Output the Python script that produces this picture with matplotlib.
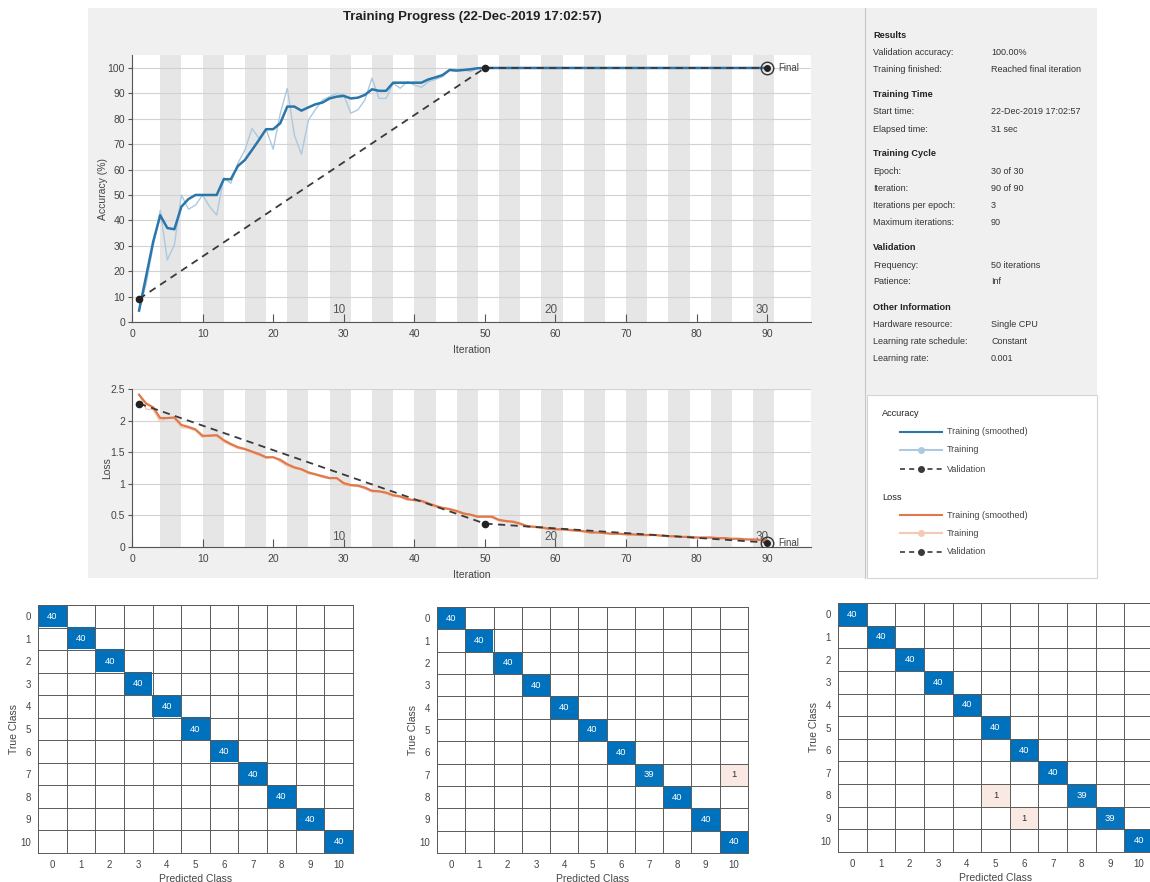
import matplotlib.pyplot as plt
import numpy as np
from matplotlib.patches import Rectangle

plt.rcParams['font.family'] = ['Liberation Sans', 'DejaVu Sans']

W, H = 1150, 882

# training progress, per iteration (1..90)
iters = np.arange(1, 91)
acc_smooth = [4.5, 18, 31.6, 42, 37, 36.5, 45.4, 48.4, 50, 50,
              50, 50, 56.2, 56.2, 61.4, 63.8, 67.7, 71.7, 75.9, 75.9,
              78.2, 84.8, 84.8, 83.2, 84.5, 85.7, 86.4, 88, 88.7, 89,
              88, 88.3, 89.4, 91.6, 91, 91, 94.2, 94.2, 94.2, 94.2,
              94.2, 95.5, 96.3, 97.2, 99.2, 99, 99.2, 99.5, 99.9, 100] + [100] * 40
acc_raw = [4.5, 15, 30, 44, 24.4, 30.3, 50, 44.4, 46, 50,
           45.4, 42.1, 56.8, 54.6, 62.5, 67.7, 76.2, 72.3, 75.9, 68,
           82, 92, 73.6, 66, 79.5, 83.7, 87.4, 88.7, 90, 89.4,
           82.2, 83.5, 87.4, 96, 88, 88, 94, 92, 94.6, 93.3,
           92.4, 94.6, 95.5, 96.6, 99.2, 98.6, 99.2, 98.6, 100, 100] + [100] * 40
loss_smooth = [2.41, 2.27, 2.21, 2.04, 2.04, 2.05, 1.93, 1.90, 1.86, 1.76,
               1.76, 1.77, 1.69, 1.63, 1.58, 1.55, 1.51, 1.47, 1.42, 1.42,
               1.38, 1.31, 1.26, 1.23, 1.18, 1.15, 1.12, 1.09, 1.09, 1.01,
               0.98, 0.97, 0.94, 0.89, 0.88, 0.86, 0.82, 0.80, 0.76, 0.74,
               0.73, 0.69, 0.65, 0.62, 0.60, 0.57, 0.53, 0.51, 0.48, 0.48,
               0.48, 0.43, 0.41, 0.40, 0.37, 0.33, 0.32, 0.31, 0.29, 0.28,
               0.28, 0.27, 0.26, 0.25, 0.23, 0.23, 0.22, 0.21, 0.21, 0.20,
               0.20, 0.19, 0.19, 0.19, 0.18, 0.17, 0.17, 0.16, 0.16, 0.15,
               0.15, 0.15, 0.14, 0.14, 0.13, 0.13, 0.12, 0.12, 0.11, 0.10]
loss_raw = [2.41, 2.18, 2.17, 1.98, 2.05, 2.03, 1.89, 1.88, 1.84, 1.73,
            1.78, 1.75, 1.66, 1.61, 1.56, 1.54, 1.49, 1.45, 1.40, 1.43,
            1.35, 1.28, 1.24, 1.22, 1.16, 1.14, 1.10, 1.08, 1.10, 0.98,
            0.97, 0.96, 0.92, 0.87, 0.88, 0.84, 0.80, 0.79, 0.74, 0.75,
            0.71, 0.67, 0.63, 0.61, 0.59, 0.55, 0.52, 0.50, 0.47, 0.49,
            0.46, 0.41, 0.40, 0.39, 0.35, 0.32, 0.31, 0.30, 0.28, 0.28,
            0.27, 0.26, 0.25, 0.24, 0.22, 0.23, 0.21, 0.21, 0.20, 0.20,
            0.19, 0.19, 0.18, 0.19, 0.17, 0.17, 0.16, 0.16, 0.15, 0.15,
            0.14, 0.15, 0.13, 0.14, 0.12, 0.13, 0.12, 0.11, 0.11, 0.09]
val_iter = [1, 50, 90]
val_acc = [9.09, 100, 100]
val_loss = [2.27, 0.37, 0.07]
epoch_len = 3
n_epochs = 30
epoch_marks = [10, 20, 30]

info = [
    ('Results', [('Validation accuracy:', '100.00%'),
                 ('Training finished:', 'Reached final iteration')]),
    ('Training Time', [('Start time:', '22-Dec-2019 17:02:57'),
                       ('Elapsed time:', '31 sec')]),
    ('Training Cycle', [('Epoch:', '30 of 30'),
                        ('Iteration:', '90 of 90'),
                        ('Iterations per epoch:', '3'),
                        ('Maximum iterations:', '90')]),
    ('Validation', [('Frequency:', '50 iterations'),
                    ('Patience:', 'Inf')]),
    ('Other Information', [('Hardware resource:', 'Single CPU'),
                           ('Learning rate schedule:', 'Constant'),
                           ('Learning rate:', '0.001')]),
]

# confusion matrices: correct counts per class plus (true, predicted, count) errors
classes = list(range(11))
correct_a = [40, 40, 40, 40, 40, 40, 40, 40, 40, 40, 40]
errors_a = []
correct_b = [40, 40, 40, 40, 40, 40, 40, 39, 40, 40, 40]
errors_b = [(7, 10, 1)]
correct_c = [40, 40, 40, 40, 40, 40, 40, 40, 39, 39, 40]
errors_c = [(8, 5, 1), (9, 6, 1)]

C_ACC = '#2a76aa'
C_ACC_RAW = '#abc9df'
C_LOSS = '#e0784a'
C_LOSS_RAW = '#f6c9b3'
C_VAL = '#3a3a3a'
C_TXT = '#333333'

fig = plt.figure(figsize=(W / 100, H / 100), dpi=100)


def px_axes(x0, y0, x1, y1):
    return fig.add_axes([x0 / W, 1 - y1 / H, (x1 - x0) / W, (y1 - y0) / H])


# backdrop canvas in pixel units
bg = fig.add_axes([0, 0, 1, 1])
bg.set_xlim(0, W)
bg.set_ylim(H, 0)
bg.axis('off')
bg.set_zorder(-1)
bg.add_patch(Rectangle((88, 8), 1009, 570, fc='#f0f0f0', ec='none'))
bg.plot([865, 865], [8, 578], color='#c8c8c8', lw=0.8)
bg.add_patch(Rectangle((867, 395), 230, 183, fc='white', ec='#d4d4d4', lw=0.8))
bg.text(472, 17, 'Training Progress (22-Dec-2019 17:02:57)', ha='center', va='center',
        fontsize=9.5, fontweight='bold', color='#222222')

# info panel
y = 35
for head, rows in info:
    bg.text(873, y, head, fontsize=6.6, fontweight='bold', va='center', color='#222222')
    y += 17.5
    for lab, val in rows:
        bg.text(873, y, lab, fontsize=6.5, va='center', color=C_TXT)
        bg.text(991, y, val, fontsize=6.5, va='center', color=C_TXT)
        y += 17
    y += 8

# legend panel
def legend_group(y0, title, c_smooth, c_raw):
    bg.text(882, y0, title, fontsize=6.6, va='center', color='#222222')
    rows = [(y0 + 18, dict(color=c_smooth, lw=1.5), 'Training (smoothed)'),
            (y0 + 36, dict(color=c_raw, lw=1.5, marker='o', ms=4, markevery=[1]), 'Training'),
            (y0 + 55, dict(color=C_VAL, lw=1.2, ls=(0, (3, 2.5)), marker='o', ms=4,
                           markevery=[1]), 'Validation')]
    for yy, style, lab in rows:
        bg.plot([900, 921, 942], [yy, yy, yy], **style)
        bg.text(947, yy, lab, fontsize=6.5, va='center', color='#444444')


legend_group(414, 'Accuracy', C_ACC, C_ACC_RAW)
legend_group(497, 'Loss', C_LOSS, C_LOSS_RAW)


def style_progress(ax, ylim, yticks, ylabels, ylabel, epoch_y, xlab_off, ylab_off):
    ax.set_facecolor('white')
    ax.set_xlim(0, 96.2)
    ax.set_ylim(*ylim)
    for k in range(1, n_epochs, 2):
        ax.axvspan(k * epoch_len + 1, (k + 1) * epoch_len + 1, color='#e6e6e6', lw=0, zorder=0)
    ax.set_axisbelow(True)
    ax.yaxis.grid(True, color='#d2d2d2', lw=0.8)
    for s in ('top', 'right'):
        ax.spines[s].set_visible(False)
    for s in ('left', 'bottom'):
        ax.spines[s].set_color('#555555')
        ax.spines[s].set_linewidth(0.8)
    ax.set_xticks(range(0, 91, 10))
    ax.set_yticks(yticks)
    ax.set_yticklabels(ylabels)
    ax.tick_params(axis='x', direction='in', length=6, width=0.8, color='#555555',
                   labelsize=7.5, labelcolor='#444444', pad=5)
    ax.tick_params(axis='y', direction='out', length=3, width=0.8, color='#555555',
                   labelsize=7.5, labelcolor='#444444', pad=2)
    ax.set_xlabel('Iteration', fontsize=7.5, color='#444444')
    ax.set_ylabel(ylabel, fontsize=7.5, color='#444444')
    ax.xaxis.set_label_coords(0.5, xlab_off)
    ax.yaxis.set_label_coords(ylab_off, 0.5)
    for e in epoch_marks:
        ax.text(e * epoch_len - 0.7, epoch_y, str(e), ha='center', va='bottom',
                fontsize=8.5, color='#555555', zorder=1)


def final_marker(ax, x, yv):
    ax.plot(x, yv, 'o', ms=9, mfc='none', mec='#333333', mew=1, zorder=5)
    ax.plot(x, yv, 'o', ms=4, color='#222222', zorder=5)
    ax.text(x + 1.6, yv, 'Final', fontsize=7, va='center', ha='left', color='#444444')


# accuracy
ax1 = px_axes(132, 55, 811, 322)
style_progress(ax1, (0, 105.1), range(0, 101, 10), [str(v) for v in range(0, 101, 10)],
               'Accuracy (%)', 2.2, -0.085, -0.036)
ax1.plot(iters, acc_raw, color=C_ACC_RAW, lw=1.0, zorder=2)
ax1.plot(iters, acc_smooth, color=C_ACC, lw=1.8, zorder=3)
ax1.plot(val_iter, val_acc, color=C_VAL, lw=1.3, ls=(0, (4, 3)), zorder=4)
ax1.plot(val_iter[:-1], val_acc[:-1], 'o', ms=4.5, color='#222222', zorder=5)
final_marker(ax1, val_iter[-1], val_acc[-1])

# loss
ax2 = px_axes(132, 389, 811, 547)
style_progress(ax2, (0, 2.5), [0, 0.5, 1, 1.5, 2, 2.5], ['0', '0.5', '1', '1.5', '2', '2.5'],
               'Loss', 0.06, -0.145, -0.029)
ax2.plot(iters, loss_raw, color=C_LOSS_RAW, lw=1.0, zorder=2)
ax2.plot(iters, loss_smooth, color=C_LOSS, lw=1.6, zorder=3)
ax2.plot(val_iter, val_loss, color=C_VAL, lw=1.3, ls=(0, (4, 3)), zorder=4)
ax2.plot(val_iter[:-1], val_loss[:-1], 'o', ms=4.5, color='#222222', zorder=5)
final_marker(ax2, val_iter[-1], val_loss[-1])


def build_cm(correct, errors):
    cm = np.diag(np.array(correct, dtype=float))
    for t, p, c in errors:
        cm[t, p] = c
    return cm


def draw_cm(ax, cm):
    n = len(cm)
    white = np.array([1.0, 1.0, 1.0])
    blue = np.array([0, 114, 189]) / 255
    red = np.array([217, 83, 25]) / 255
    vmax = cm.max()
    rgb = np.ones((n, n, 3))
    for i in range(n):
        for j in range(n):
            v = cm[i, j]
            if v == 0:
                continue
            if i == j:
                f = v / vmax
                rgb[i, j] = white * (1 - f) + blue * f
                tc = 'white'
            else:
                f = min(1.0, 0.1 + 0.9 * v / vmax)
                rgb[i, j] = white * (1 - f) + red * f
                tc = '#333333'
            ax.text(j, i, '%d' % v, ha='center', va='center', fontsize=6.8, color=tc)
    ax.imshow(rgb, extent=(-0.5, n - 0.5, n - 0.5, -0.5), aspect='auto', interpolation='nearest')
    ax.set_xticks(range(n))
    ax.set_yticks(range(n))
    ax.set_xticklabels(classes)
    ax.set_yticklabels(classes)
    ax.set_xticks(np.arange(-0.5, n), minor=True)
    ax.set_yticks(np.arange(-0.5, n), minor=True)
    ax.grid(which='minor', color='#5a5a5a', lw=0.7)
    ax.tick_params(which='both', length=0, labelsize=7, labelcolor='#444444', pad=5)
    for s in ax.spines.values():
        s.set_color('#5a5a5a')
        s.set_linewidth(0.7)
    ax.set_xlabel('Predicted Class', fontsize=7.5, color='#444444', labelpad=3)
    ax.set_ylabel('True Class', fontsize=7.5, color='#444444', labelpad=1)


draw_cm(px_axes(38, 605, 353, 853), build_cm(correct_a, errors_a))
draw_cm(px_axes(437, 607, 748, 853), build_cm(correct_b, errors_b))
draw_cm(px_axes(838, 603, 1153, 852), build_cm(correct_c, errors_c))

fig.savefig('out.png', dpi=100)
